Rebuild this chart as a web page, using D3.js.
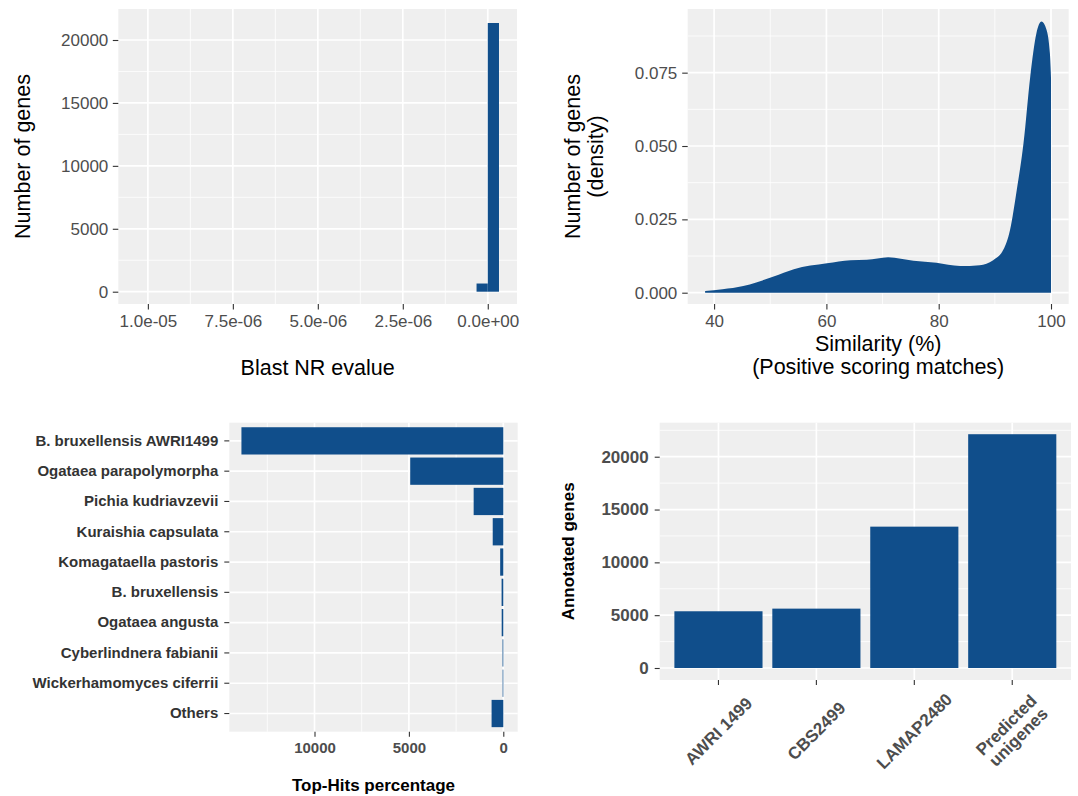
<!DOCTYPE html>
<html>
<head>
<meta charset="utf-8">
<script src="https://cdn.jsdelivr.net/npm/d3@7"></script>
<style>
  html, body { margin: 0; padding: 0; background: #ffffff; }
  svg { display: block; }
</style>
</head>
<body>
<svg id="fig" width="1078" height="796"></svg>
<script>
// ---------- Blast NR e-value histogram ----------
const evalueBinLower = [0, -3.3e-7];
const evalueBinUpper = [3.3e-7, 0];
const evalueBinCounts = [650, 21350];
const evalueLimits = [1.087e-5, -8.6e-7];
const evalueTicks = [1e-5, 7.5e-6, 5e-6, 2.5e-6, 0];
const evalueTickLabels = ["1.0e-05", "7.5e-06", "5.0e-06", "2.5e-06", "0.0e+00"];
const geneCountLimits = [-977, 22463];
const geneCountTicks = [0, 5000, 10000, 15000, 20000];

// ---------- Similarity density ----------
const similarity = [38.4, 41.5, 45.2, 47.5, 50.6, 54.2, 60.1, 64.3, 67.2, 71.0, 75.5, 79.6,
  83.8, 87.3, 89.7, 91.5, 92.7, 93.9, 95.1, 96.3, 97.4, 98.3, 99.2, 99.8, 100];
const similarityDensity = [0.0006, 0.0012, 0.0023, 0.0035, 0.0055, 0.0080, 0.0100, 0.0111, 0.0112,
  0.0121, 0.0109, 0.0102, 0.0091, 0.0094, 0.0111, 0.0146, 0.0214, 0.0350, 0.0509, 0.0736,
  0.0884, 0.0924, 0.0896, 0.0816, 0.0731];
const similarityLimits = [35.3, 103.15];
const similarityTicks = [40, 60, 80, 100];
const densityLimits = [-0.00385, 0.0967];
const densityTicks = [0, 0.025, 0.05, 0.075];
const densityTickLabels = ["0.000", "0.025", "0.050", "0.075"];

// ---------- Top hits per species ----------
const species = ["B. bruxellensis AWRI1499", "Ogataea parapolymorpha", "Pichia kudriavzevii",
  "Kuraishia capsulata", "Komagataella pastoris", "B. bruxellensis", "Ogataea angusta",
  "Cyberlindnera fabianii", "Wickerhamomyces ciferrii", "Others"];
const topHits = [13870, 4930, 1570, 560, 165, 90, 85, 40, 35, 620];
const topHitsLimits = [14513, -763];
const topHitsTicks = [10000, 5000, 0];

// ---------- Annotated genes per reference ----------
const genomes = ["AWRI 1499", "CBS2499", "LAMAP2480", "Predicted\nunigenes"];
const annotatedGenes = [5370, 5620, 13380, 22130];
const annotatedLimits = [-1136, 23220];
const annotatedTicks = [0, 5000, 10000, 15000, 20000];

// ---------- shared look ----------
const FONT = "'Liberation Sans', Arial, Helvetica, sans-serif";
const BAR = "#104E8B";
const PANEL_BG = "#EFEFEF";
const TICK_COL = "#333333";
const LABEL_COL = "#4D4D4D";

const svg = d3.select("#fig").attr("font-family", FONT);
svg.append("rect").attr("width", 1078).attr("height", 796).attr("fill", "#ffffff");

function minorOf(ticks, scale) {
  const t = ticks.slice().sort((a, b) => a - b);
  const step = t[1] - t[0];
  const [lo, hi] = d3.extent(scale.domain());
  const out = [];
  for (let v = t[0] - step / 2; v <= t[t.length - 1] + step / 2 + 1e-12; v += step) {
    if (v > lo && v < hi) out.push(v);
  }
  return out;
}

function drawPanel(box, xs, xMajor, xMinor, ys, yMajor, yMinor) {
  const g = svg.append("g");
  g.append("rect").attr("x", box.left).attr("y", box.top)
    .attr("width", box.right - box.left).attr("height", box.bottom - box.top)
    .attr("fill", PANEL_BG);
  g.selectAll(null).data(xMinor).join("line")
    .attr("x1", d => xs(d)).attr("x2", d => xs(d)).attr("y1", box.top).attr("y2", box.bottom)
    .attr("stroke", "#fff").attr("stroke-width", 0.8);
  g.selectAll(null).data(yMinor).join("line")
    .attr("y1", d => ys(d)).attr("y2", d => ys(d)).attr("x1", box.left).attr("x2", box.right)
    .attr("stroke", "#fff").attr("stroke-width", 0.8);
  g.selectAll(null).data(xMajor).join("line")
    .attr("x1", d => xs(d)).attr("x2", d => xs(d)).attr("y1", box.top).attr("y2", box.bottom)
    .attr("stroke", "#fff").attr("stroke-width", 1.7);
  g.selectAll(null).data(yMajor).join("line")
    .attr("y1", d => ys(d)).attr("y2", d => ys(d)).attr("x1", box.left).attr("x2", box.right)
    .attr("stroke", "#fff").attr("stroke-width", 1.7);
}

function styleAxis(g, size, weight, color) {
  g.attr("font-family", FONT).attr("font-size", null);
  g.select(".domain").remove();
  g.selectAll(".tick line").attr("stroke", TICK_COL).attr("stroke-width", 1.1);
  g.selectAll(".tick text").attr("fill", color)
    .style("font-size", size + "px").style("font-weight", weight);
}

function label(x, y, text, o) {
  const t = svg.append("text")
    .attr("transform", `translate(${x},${y})` + (o.rotate ? ` rotate(${o.rotate})` : ""))
    .attr("text-anchor", o.anchor || "middle")
    .style("font-size", o.size + "px")
    .style("font-weight", o.weight || "normal")
    .attr("fill", o.color || "#000");
  if (o.dy) t.attr("dy", o.dy);
  t.text(text);
  return t;
}

// ================= Panel 1: e-value histogram =================
{
  const box = { left: 118.3, right: 517, top: 9, bottom: 304 };
  const x = d3.scaleLinear().domain(evalueLimits).range([box.left, box.right]);
  const y = d3.scaleLinear().domain(geneCountLimits).range([box.bottom, box.top]);
  drawPanel(box, x, evalueTicks, minorOf(evalueTicks, x), y, geneCountTicks, minorOf(geneCountTicks, y));

  svg.append("g").selectAll("rect").data(evalueBinCounts).join("rect")
    .attr("x", (d, i) => Math.min(x(evalueBinLower[i]), x(evalueBinUpper[i])))
    .attr("width", (d, i) => Math.abs(x(evalueBinUpper[i]) - x(evalueBinLower[i])))
    .attr("y", d => y(d)).attr("height", d => y(0) - y(d))
    .attr("fill", BAR);

  const ax = svg.append("g").attr("transform", `translate(0,${box.bottom})`)
    .call(d3.axisBottom(x).tickValues(evalueTicks).tickFormat((d, i) => evalueTickLabels[i]).tickSize(5.5));
  styleAxis(ax, 17, "normal", LABEL_COL);
  ax.selectAll(".tick text").attr("y", 22.5).attr("dy", null);

  const ay = svg.append("g").attr("transform", `translate(${box.left},0)`)
    .call(d3.axisLeft(y).tickValues(geneCountTicks).tickFormat(d3.format("d")).tickSize(5.5).tickPadding(4.5));
  styleAxis(ay, 17, "normal", LABEL_COL);

  label((box.left + box.right) / 2, 375, "Blast NR evalue", { size: 21.5 });
  label(29.5, (box.top + box.bottom) / 2, "Number of genes", { size: 21.5, rotate: -90 });
}

// ================= Panel 2: similarity density =================
{
  const box = { left: 687.7, right: 1068.7, top: 9, bottom: 304 };
  const x = d3.scaleLinear().domain(similarityLimits).range([box.left, box.right]);
  const y = d3.scaleLinear().domain(densityLimits).range([box.bottom, box.top]);
  drawPanel(box, x, similarityTicks, minorOf(similarityTicks, x), y, densityTicks, minorOf(densityTicks, y));

  const area = d3.area()
    .x((d, i) => x(similarity[i]))
    .y0(y(0))
    .y1(d => y(d))
    .curve(d3.curveMonotoneX);
  svg.append("path").datum(similarityDensity).attr("d", area).attr("fill", BAR);

  const ax = svg.append("g").attr("transform", `translate(0,${box.bottom})`)
    .call(d3.axisBottom(x).tickValues(similarityTicks).tickSize(5.5));
  styleAxis(ax, 17, "normal", LABEL_COL);
  ax.selectAll(".tick text").attr("y", 22.5).attr("dy", null);

  const ay = svg.append("g").attr("transform", `translate(${box.left},0)`)
    .call(d3.axisLeft(y).tickValues(densityTicks).tickFormat((d, i) => densityTickLabels[i]).tickSize(5.5).tickPadding(4.9));
  styleAxis(ay, 17, "normal", LABEL_COL);

  const cx = (box.left + box.right) / 2;
  label(cx, 350.5, "Similarity (%)", { size: 21.5 });
  label(cx, 373.5, "(Positive scoring matches)", { size: 21.5 });
  const cy = (box.top + box.bottom) / 2;
  label(580, cy, "Number of genes", { size: 21.5, rotate: -90 });
  label(603, cy, "(density)", { size: 21.5, rotate: -90 });
}

// ================= Panel 3: top hits per species =================
{
  const box = { left: 229.3, right: 517.7, top: 422.7, bottom: 731.7 };
  const x = d3.scaleLinear().domain(topHitsLimits).range([box.left, box.right]);
  const y = d3.scaleBand().domain(species).range([box.top, box.bottom])
    .paddingInner(0.1).paddingOuter(0.15);
  const centers = species.map(s => y(s) + y.bandwidth() / 2);
  const yc = v => v;
  drawPanel(box, x, topHitsTicks, minorOf(topHitsTicks, x), yc, centers, []);

  svg.append("g").selectAll("rect").data(topHits).join("rect")
    .attr("y", (d, i) => y(species[i])).attr("height", y.bandwidth())
    .attr("x", d => x(d)).attr("width", d => x(0) - x(d))
    .attr("fill", BAR);

  const ax = svg.append("g").attr("transform", `translate(0,${box.bottom})`)
    .call(d3.axisBottom(x).tickValues(topHitsTicks).tickFormat(d3.format("d")).tickSize(5));
  styleAxis(ax, 15, "bold", LABEL_COL);
  ax.selectAll(".tick text").attr("y", 21.5).attr("dy", null);

  const ay = svg.append("g").attr("transform", `translate(${box.left},0)`)
    .call(d3.axisLeft(y).tickSize(5).tickPadding(6));
  styleAxis(ay, 15, "bold", "#333333");

  label((box.left + box.right) / 2, 791, "Top-Hits percentage", { size: 17, weight: "bold" });
}

// ================= Panel 4: annotated genes =================
{
  const box = { left: 659.7, right: 1071, top: 422.7, bottom: 680 };
  const x = d3.scaleBand().domain(genomes).range([box.left, box.right])
    .paddingInner(0.1).paddingOuter(0.15);
  const y = d3.scaleLinear().domain(annotatedLimits).range([box.bottom, box.top]);
  const centers = genomes.map(s => x(s) + x.bandwidth() / 2);
  drawPanel(box, v => v, centers, [], y, annotatedTicks, minorOf(annotatedTicks, y));

  svg.append("g").selectAll("rect").data(annotatedGenes).join("rect")
    .attr("x", (d, i) => x(genomes[i])).attr("width", x.bandwidth())
    .attr("y", d => y(d)).attr("height", d => y(0) - y(d))
    .attr("fill", BAR);

  const ax = svg.append("g").attr("transform", `translate(0,${box.bottom})`)
    .call(d3.axisBottom(x).tickSize(5).tickFormat(""));
  styleAxis(ax, 17, "bold", LABEL_COL);

  // slanted category names, each centred under its tick
  genomes.forEach((name, i) => {
    const lines = name.split("\n");
    const t = svg.append("text")
      .attr("transform", `translate(${centers[i]},731) rotate(-45)`)
      .attr("text-anchor", "middle")
      .style("font-size", "17px").style("font-weight", "bold")
      .attr("fill", LABEL_COL);
    const lh = 17;
    lines.forEach((ln, j) => {
      t.append("tspan").attr("x", 0)
        .attr("y", (j - (lines.length - 1) / 2) * lh)
        .attr("dy", "0.35em").text(ln);
    });
  });

  const ay = svg.append("g").attr("transform", `translate(${box.left},0)`)
    .call(d3.axisLeft(y).tickValues(annotatedTicks).tickFormat(d3.format("d")).tickSize(5).tickPadding(6));
  styleAxis(ay, 17, "bold", LABEL_COL);

  label(574, (box.top + box.bottom) / 2, "Annotated genes", { size: 17, weight: "bold", rotate: -90 });
}
</script>
</body>
</html>
